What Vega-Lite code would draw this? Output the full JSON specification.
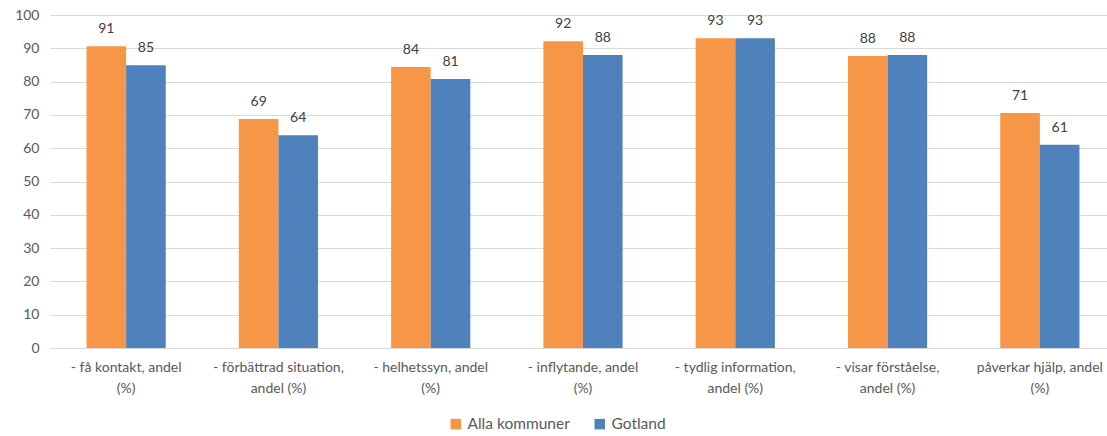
{
  "$schema": "https://vega.github.io/schema/vega-lite/v6.json",
  "width": 1057,
  "height": 333,
  "autosize": {"type": "none"},
  "padding": {"left": 50, "top": 15, "right": 0, "bottom": 88},
  "background": "white",
  "config": {"view": {"stroke": null}, "font": "Lato"},
  "data": {
    "values": [
      {"kategori": "- få kontakt, andel|(%)", "serie": "Alla kommuner", "varde": 90.6},
      {"kategori": "- få kontakt, andel|(%)", "serie": "Gotland", "varde": 84.9},
      {"kategori": "- förbättrad situation,|andel (%)", "serie": "Alla kommuner", "varde": 68.8},
      {"kategori": "- förbättrad situation,|andel (%)", "serie": "Gotland", "varde": 63.9},
      {"kategori": "- helhetssyn, andel|(%)", "serie": "Alla kommuner", "varde": 84.4},
      {"kategori": "- helhetssyn, andel|(%)", "serie": "Gotland", "varde": 80.8},
      {"kategori": "- inflytande, andel|(%)", "serie": "Alla kommuner", "varde": 92.1},
      {"kategori": "- inflytande, andel|(%)", "serie": "Gotland", "varde": 88.0},
      {"kategori": "- tydlig information,|andel (%)", "serie": "Alla kommuner", "varde": 93.0},
      {"kategori": "- tydlig information,|andel (%)", "serie": "Gotland", "varde": 93.0},
      {"kategori": "- visar förståelse,|andel (%)", "serie": "Alla kommuner", "varde": 87.7},
      {"kategori": "- visar förståelse,|andel (%)", "serie": "Gotland", "varde": 88.0},
      {"kategori": "påverkar hjälp, andel|(%)", "serie": "Alla kommuner", "varde": 70.6},
      {"kategori": "påverkar hjälp, andel|(%)", "serie": "Gotland", "varde": 61.0}
    ]
  },
  "encoding": {
    "x": {
      "field": "kategori",
      "type": "nominal",
      "sort": null,
      "scale": {"paddingInner": 0.48, "paddingOuter": 0.24, "range": [0, 1066]},
      "axis": {
        "title": null,
        "labelAngle": 0,
        "labelExpr": "split(datum.label, '|')",
        "labelFont": "Lato",
        "labelFontSize": 14,
        "labelColor": "#595959",
        "labelPadding": 12,
        "labelLineHeight": 21,
        "labelLimit": 200,
        "ticks": false,
        "domainColor": "#d9d9d9",
        "grid": false
      }
    },
    "xOffset": {"field": "serie", "type": "nominal", "sort": ["Alla kommuner", "Gotland"], "scale": {"paddingInner": 0}},
    "y": {
      "field": "varde",
      "type": "quantitative",
      "scale": {"domain": [0, 100], "nice": false},
      "axis": {
        "title": null,
        "values": [0, 10, 20, 30, 40, 50, 60, 70, 80, 90, 100],
        "domain": false,
        "ticks": false,
        "gridColor": "#d9d9d9",
        "labelFont": "Lato",
        "labelFontSize": 14,
        "labelColor": "#595959",
        "labelPadding": 11
      }
    },
    "color": {
      "field": "serie",
      "type": "nominal",
      "sort": ["Alla kommuner", "Gotland"],
      "scale": {"domain": ["Alla kommuner", "Gotland"], "range": ["#f79646", "#4f81bd"]},
      "legend": {
        "title": null,
        "orient": "none",
        "legendX": 398,
        "legendY": 401,
        "direction": "horizontal",
        "symbolType": "square",
        "symbolSize": 110,
        "symbolStrokeWidth": 0,
        "labelFont": "Lato",
        "labelFontSize": 15.5,
        "labelColor": "#595959",
        "labelOffset": 4,
        "columnPadding": 22
      }
    }
  },
  "layer": [
    {"mark": {"type": "bar"}},
    {
      "mark": {"type": "text", "baseline": "bottom", "dy": -10, "font": "Lato", "fontSize": 14, "color": "#404040"},
      "encoding": {
        "text": {"field": "varde", "type": "quantitative", "format": ".0f"},
        "color": {"value": "#404040"}
      }
    }
  ]
}
